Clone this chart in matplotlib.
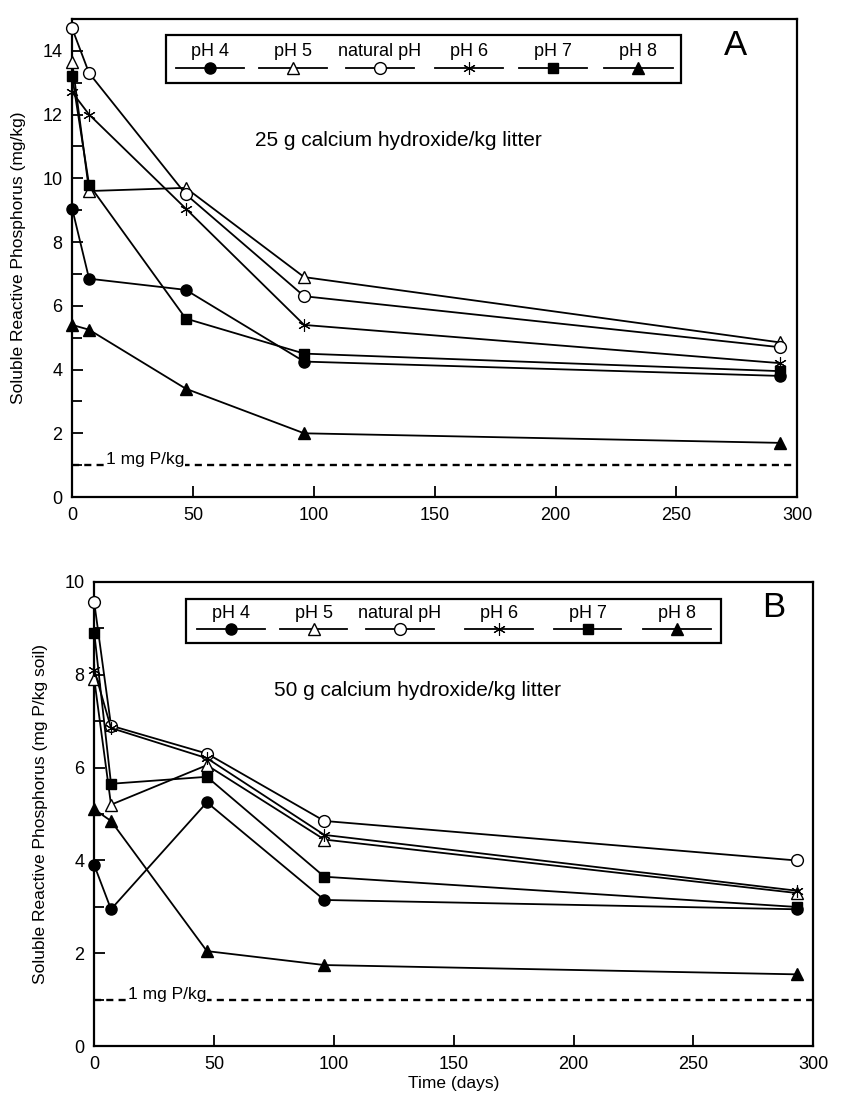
import matplotlib
matplotlib.use("Agg")
import matplotlib.pyplot as plt
from matplotlib.patches import Rectangle
from matplotlib.ticker import MultipleLocator

plt.rcParams["font.family"] = ["Liberation Sans", "DejaVu Sans"]

# sampling days (same for both panels)
days = [0, 7, 47, 96, 293]
labels = ["pH 4", "pH 5", "natural pH", "pH 6", "pH 7", "pH 8"]

# panel A: 25 g calcium hydroxide/kg litter (mg/kg)
a_ph4 = [9.05, 6.85, 6.5, 4.25, 3.8]
a_ph5 = [13.65, 9.6, 9.7, 6.9, 4.85]
a_nat = [14.7, 13.3, 9.5, 6.3, 4.7]
a_ph6 = [12.7, 12.0, 9.05, 5.4, 4.2]
a_ph7 = [13.2, 9.8, 5.6, 4.5, 3.95]
a_ph8 = [5.4, 5.25, 3.4, 2.0, 1.7]

# panel B: 50 g calcium hydroxide/kg litter (mg P/kg soil)
b_ph4 = [3.9, 2.95, 5.25, 3.15, 2.95]
b_ph5 = [7.9, 5.2, 6.05, 4.45, 3.3]
b_nat = [9.55, 6.9, 6.3, 4.85, 4.0]
b_ph6 = [8.1, 6.85, 6.2, 4.55, 3.35]
b_ph7 = [8.9, 5.65, 5.8, 3.65, 3.0]
b_ph8 = [5.1, 4.85, 2.05, 1.75, 1.55]

ref_level = 1.0  # 1 mg P/kg line

STYLE = {
    "pH 4": dict(marker="o", mfc="black", ms=8),
    "pH 5": dict(marker="^", mfc="white", ms=8.5),
    "natural pH": dict(marker="o", mfc="white", ms=8.5),
    "pH 6": dict(marker=(6, 2, 0), mfc="black", ms=9, mew=0.8),
    "pH 7": dict(marker="s", mfc="black", ms=7.5),
    "pH 8": dict(marker="^", mfc="black", ms=9),
}


def draw_key(ax, centers, box):
    x0, x1, y0, y1 = box
    ax.add_patch(Rectangle((x0, y0), x1 - x0, y1 - y0, transform=ax.transAxes,
                           fill=False, lw=1.6, ec="black", clip_on=False))
    line_y = y0 + 0.32 * (y1 - y0)
    text_y = y0 + 0.66 * (y1 - y0)
    for lab, c in zip(labels, centers):
        st = dict(STYLE[lab])
        ax.plot([c - 0.047, c + 0.047], [line_y, line_y], transform=ax.transAxes,
                color="black", lw=1.3, clip_on=False)
        ax.plot([c], [line_y], transform=ax.transAxes, color="black", ls="none",
                mec="black", mew=st.pop("mew", 1.0), clip_on=False, **st)
        ax.text(c, text_y, lab, transform=ax.transAxes, ha="center", va="center",
                fontsize=13)


def panel(ax, data, ymax, ylabel, subtitle, letter, centers, box, sub_y):
    for lab, vals in zip(labels, data):
        st = dict(STYLE[lab])
        ax.plot(days, vals, color="black", lw=1.3, mec="black",
                mew=st.pop("mew", 1.0), clip_on=False, zorder=3, **st)
    ax.plot([0, 300], [ref_level, ref_level], color="black", lw=1.7,
            ls=(0, (3, 2.2)), zorder=2)
    ax.text(14, ref_level + 0.012 * ymax, "1 mg P/kg", fontsize=12.5,
            va="center", ha="left", zorder=2.5,
            bbox=dict(fc="white", ec="none", pad=0.2))
    ax.set_xlim(0, 300)
    ax.set_ylim(0, ymax)
    ax.xaxis.set_major_locator(MultipleLocator(50))
    ax.yaxis.set_major_locator(MultipleLocator(2))
    ax.yaxis.set_minor_locator(MultipleLocator(1))
    ax.tick_params(which="both", direction="in", labelsize=13, width=1.3,
                   top=False, right=False)
    ax.tick_params(which="major", length=8, pad=7)
    ax.tick_params(which="minor", length=7)
    for s in ax.spines.values():
        s.set_linewidth(1.6)
    ax.set_ylabel(ylabel, fontsize=12.5, labelpad=12)
    ax.text(0.45, sub_y, subtitle, transform=ax.transAxes, ha="center",
            va="center", fontsize=15)
    ax.text(0.915 if letter == "A" else 0.945, 0.945, letter,
            transform=ax.transAxes, ha="center", va="center", fontsize=25)
    draw_key(ax, centers, box)


fig = plt.figure(figsize=(8.49, 11.12), dpi=100)
ax_a = fig.add_axes([0.085, 0.553, 0.854, 0.430])
ax_b = fig.add_axes([0.111, 0.059, 0.847, 0.418])

panel(ax_a, [a_ph4, a_ph5, a_nat, a_ph6, a_ph7, a_ph8], 15,
      "Soluble Reactive Phosphorus (mg/kg)",
      "25 g calcium hydroxide/kg litter", "A",
      [0.19, 0.305, 0.424, 0.547, 0.663, 0.781],
      (0.13, 0.84, 0.866, 0.966), 0.745)

panel(ax_b, [b_ph4, b_ph5, b_nat, b_ph6, b_ph7, b_ph8], 10,
      "Soluble Reactive Phosphorus (mg P/kg soil)",
      "50 g calcium hydroxide/kg litter", "B",
      [0.19, 0.305, 0.425, 0.563, 0.686, 0.81],
      (0.127, 0.872, 0.867, 0.963), 0.766)
ax_b.set_xlabel("Time (days)", fontsize=12.5, labelpad=2)

fig.savefig("out.png", dpi=100, facecolor="white")
